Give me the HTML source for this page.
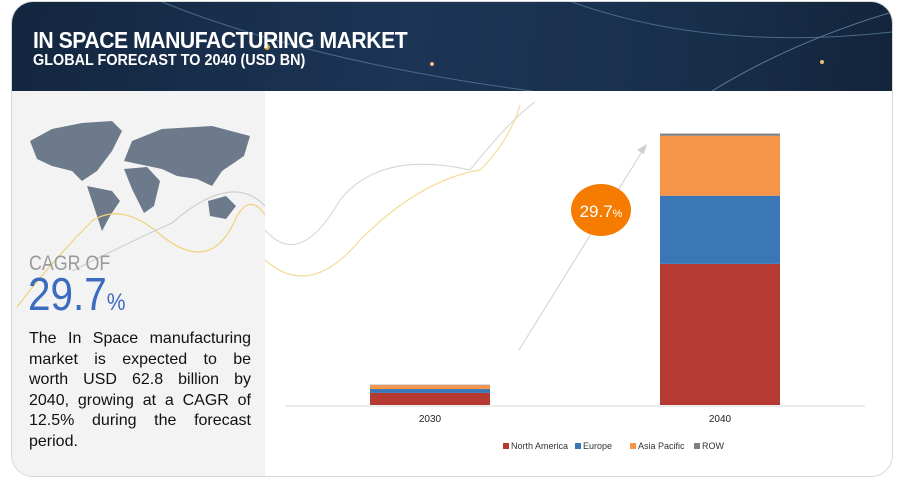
<!DOCTYPE html>
<html><head><meta charset="utf-8"><style>
body{margin:0;width:900px;height:478px;background:#fff;font-family:"Liberation Sans",sans-serif;overflow:hidden;position:relative}
.card{position:absolute;left:11px;top:1px;width:880px;height:474px;border:1px solid #d8d8d8;border-radius:22px;overflow:hidden;background:#fff}
.hdr{position:absolute;left:0;top:0;width:880px;height:89px;background:linear-gradient(100deg,#13263f 0%,#1c3555 45%,#18304c 75%,#13243b 100%)}
.t1{position:absolute;left:21px;top:25px;color:#fff;font-size:23px;font-weight:bold;letter-spacing:-0.5px;transform:scaleX(0.92);transform-origin:left}
.t2{position:absolute;left:21px;top:50px;color:#fff;font-size:16px;font-weight:bold;transform:scaleX(0.9);transform-origin:left}
.left{position:absolute;left:0;top:89px;width:253px;height:385px;background:#f3f3f3}
.cagr{position:absolute;left:17px;top:161px;color:#9a9a9a;font-size:21px;transform:scaleX(0.85);transform-origin:left}
.big{position:absolute;left:16px;top:176px;color:#3b6cc0;font-size:46px;transform:scaleX(0.88);transform-origin:left}
.big span{font-size:24px}
.desc{position:absolute;left:17px;top:238px;width:222px;font-size:16px;line-height:20.5px;color:#111}
.desc div{text-align:justify;text-align-last:justify;white-space:nowrap}
.desc div.last{text-align-last:left}
</style></head><body>
<div class="card">
<div class="hdr">
<svg width="880" height="89" style="position:absolute;left:0;top:0">
<path d="M150 0 Q300 60 520 89" stroke="#4a6a8a" fill="none" stroke-width="1"/>
<path d="M560 0 Q700 50 880 30" stroke="#4a6a8a" fill="none"/>
<path d="M700 89 Q780 40 880 10" stroke="#5a7a9a" fill="none"/>
<circle cx="255" cy="45" r="3" fill="#c9a94a"/><circle cx="420" cy="62" r="2" fill="#e6c26a"/><circle cx="810" cy="60" r="2" fill="#e6c26a"/>
</svg>
<div class="t1">IN SPACE MANUFACTURING MARKET</div>
<div class="t2">GLOBAL FORECAST TO 2040 (USD BN)</div>
</div>
<div class="left">
<svg width="253" height="150" style="position:absolute;left:0;top:0">
<path d="M18 50 L40 38 L70 32 L100 30 L110 40 L100 60 L85 80 L70 90 L60 80 L40 75 L25 68 Z" fill="#6c7a8c"/>
<path d="M75 95 L100 100 L108 110 L98 125 L90 140 L85 125 Z" fill="#6c7a8c"/>
<path d="M112 70 L120 50 L150 38 L200 35 L238 45 L232 65 L210 80 L200 95 L185 88 L165 85 L150 78 Z" fill="#6c7a8c"/>
<path d="M112 78 L135 76 L148 90 L142 115 L132 122 L120 98 Z" fill="#6c7a8c"/>
<path d="M196 110 L214 105 L224 115 L214 128 L198 125 Z" fill="#6c7a8c"/>
</svg>
<svg width="253" height="385" style="position:absolute;left:0;top:0">
<path d="M5 216 Q40 170 80 130 Q110 110 150 145 Q200 185 225 125 Q245 90 270 160" stroke="#f0d27a" fill="none" stroke-width="1.2"/>
<path d="M60 180 Q120 150 160 132 Q220 80 253 115" stroke="#cfcfcf" fill="none" stroke-width="1.2"/>
</svg>
<div class="cagr">CAGR OF</div>
<div class="big">29.7<span>%</span></div>
<div class="desc">
<div>The In Space manufacturing</div>
<div>market is expected to be</div>
<div>worth USD 62.8 billion by</div>
<div>2040, growing at a CAGR of</div>
<div>12.5% during the forecast</div>
<div class="last">period.</div>
</div>
</div>
</div>
<svg id="chart" width="900" height="478" style="position:absolute;left:0;top:0">
<path d="M265 230 Q300 270 340 200 Q380 150 470 170 Q510 120 535 102" stroke="#d9d9d9" fill="none" stroke-width="1.2"/>
<path d="M265 260 Q310 300 360 240 Q420 180 480 170 Q510 140 520 105" stroke="#f3dc98" fill="none" stroke-width="1.2"/>
<line x1="519" y1="350" x2="643" y2="150" stroke="#d0d0d0" stroke-width="1"/>
<path d="M647 144 L637 150 L644 154 Z" fill="#d0d0d0"/>
<line x1="285" y1="406" x2="865" y2="406" stroke="#d9d9d9"/>
<g id="bars"></g>
<ellipse cx="601" cy="210" rx="30" ry="26" fill="#f57c00"/>
<text x="601" y="217" text-anchor="middle" fill="#fff" font-size="17" font-family="Liberation Sans">29.7<tspan font-size="11">%</tspan></text>
<g id="legend"></g>
</svg>
<script>
const categories=["2030","2040"];
const seriesNames=["North America","Europe","Asia Pacific","ROW"];
const colors=["#b53a32","#3a77b6","#f7954a","#7f7f7f"];
const northAmerica=[2.8,32.7];
const europe=[0.9,15.8];
const asiaPacific=[0.9,13.9];
const row=[0.1,0.5];
const series=[northAmerica,europe,asiaPacific,row];
const NS="http://www.w3.org/2000/svg";
const baseY=405, pxPer=4.315;
const xCenter=[430,720], barW=120;
const yScale=v=>v*pxPer;
const g=document.getElementById('bars');
categories.forEach((c,i)=>{
  let acc=0;
  series.forEach((s,k)=>{
    const h=yScale(s[i]);
    const r=document.createElementNS(NS,'rect');
    r.setAttribute('x',xCenter[i]-barW/2);
    r.setAttribute('y',baseY-yScale(acc)-h);
    r.setAttribute('width',barW);
    r.setAttribute('height',h);
    r.setAttribute('fill',colors[k]);
    
    
    g.appendChild(r);
    acc+=s[i];
  });
  const t=document.createElementNS(NS,'text');
  t.setAttribute('x',xCenter[i]);t.setAttribute('y',422);
  t.setAttribute('text-anchor','middle');t.setAttribute('font-size','10');
  t.setAttribute('font-family','Liberation Sans');t.setAttribute('fill','#222');
  
  
  t.textContent=c;g.appendChild(t);
});
const lg=document.getElementById('legend');
const lx=[503,575,630,694];
seriesNames.forEach((n,k)=>{
  const r=document.createElementNS(NS,'rect');
  r.setAttribute('x',lx[k]);r.setAttribute('y',443);r.setAttribute('width',6);r.setAttribute('height',6);r.setAttribute('fill',colors[k]);
  
  
  lg.appendChild(r);
  const t=document.createElementNS(NS,'text');
  t.setAttribute('x',lx[k]+8);t.setAttribute('y',449);t.setAttribute('font-size','9');
  t.setAttribute('font-family','Liberation Sans');t.setAttribute('fill','#333');
  
  
  t.textContent=n;lg.appendChild(t);
});
</script>
</body></html>
